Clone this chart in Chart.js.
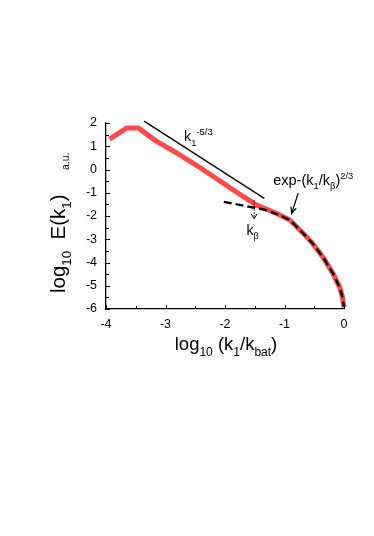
<!DOCTYPE html>
<html>
<head>
<meta charset="utf-8">
<script src="https://cdn.jsdelivr.net/npm/chart.js@4"></script>
<style>
  body { margin: 0; background: #fff; }
  #wrap { width: 374px; height: 536px; position: relative; }
</style>
</head>
<body>
<div id="wrap"><canvas id="chart"></canvas></div>
<script>
// measured spectrum (red)
const specX = [-3.94, -3.65, -3.46, -3.15, -2.81, -2.36, -1.86, -1.47, -1.13, -0.91, -0.8, -0.68, -0.52, -0.35, -0.18, -0.07, -0.03, 0.0];
const specY = [1.31, 1.79, 1.79, 1.21, 0.71, -0.02, -0.88, -1.53, -1.89, -2.17, -2.45, -2.76, -3.2, -3.78, -4.5, -5.08, -5.45, -5.93];

// exp-(k1/kb)^(2/3) fit (dashed)
const fitX = [-2.02, -1.58, -1.3, -1.08, -0.91, -0.8, -0.68, -0.52, -0.35, -0.18, -0.07, -0.03, 0.0];
const fitY = [-1.39, -1.61, -1.75, -1.97, -2.17, -2.45, -2.76, -3.2, -3.78, -4.5, -5.08, -5.45, -5.9];

// k^-5/3 reference line
const slopeX = [-3.36, -1.34];
const slopeY = [2.08, -1.24];

const xTicks = [-4, -3, -2, -1, 0];
const yTicks = [2, 1, 0, -1, -2, -3, -4, -5, -6];

const toPts = (xs, ys) => xs.map((x, i) => ({ x: x, y: ys[i] }));

const FONT = '"Liberation Sans", Arial, sans-serif';

// text with sub/superscript pieces: [text, mode] mode: 0 normal, -1 sub, 1 sup
function richText(ctx, parts, x, y, size, align) {
    let total = 0;
    parts.forEach(p => {
        ctx.font = (p[1] ? size * 0.65 : size) + 'px ' + FONT;
        total += ctx.measureText(p[0]).width;
    });
    let cx = align === 'center' ? x - total / 2 : x;
    ctx.textAlign = 'left';
    ctx.textBaseline = 'alphabetic';
    parts.forEach(p => {
        const s = p[1] ? size * 0.65 : size;
        ctx.font = s + 'px ' + FONT;
        const dy = p[1] === -1 ? size * 0.3 : (p[1] === 1 ? -size * 0.45 : 0);
        ctx.fillText(p[0], cx, y + dy);
        cx += ctx.measureText(p[0]).width;
    });
}

const decor = {
    id: 'decor',
    afterDraw(chart) {
        const ctx = chart.ctx;
        const xs = chart.scales.x, ys = chart.scales.y;
        const area = chart.chartArea;
        ctx.save();
        ctx.strokeStyle = '#000';
        ctx.fillStyle = '#000';
        ctx.lineWidth = 1;

        // inward ticks
        for (let v = -4; v <= 0.001; v += 0.5) {
            const px = Math.round(xs.getPixelForValue(v)) + 0.5;
            const len = Number.isInteger(v) ? 4 : 3;
            ctx.beginPath();
            ctx.moveTo(px, area.bottom);
            ctx.lineTo(px, area.bottom - len);
            ctx.stroke();
        }
        for (let v = -6; v <= 2.001; v += 0.5) {
            const py = Math.round(ys.getPixelForValue(v)) + 0.5;
            const len = Number.isInteger(v) ? 4 : 3;
            ctx.beginPath();
            ctx.moveTo(area.left, py);
            ctx.lineTo(area.left + len, py);
            ctx.stroke();
        }

        // k_beta dotted arrow
        const ax = xs.getPixelForValue(-1.51);
        const ay0 = ys.getPixelForValue(-1.32);
        const ay1 = ys.getPixelForValue(-2.12);
        ctx.setLineDash([1.5, 1.5]);
        ctx.beginPath();
        ctx.moveTo(ax, ay0);
        ctx.lineTo(ax, ay1);
        ctx.stroke();
        ctx.setLineDash([]);
        ctx.beginPath();
        ctx.moveTo(ax - 3, ay1 - 5);
        ctx.lineTo(ax, ay1);
        ctx.lineTo(ax + 3, ay1 - 5);
        ctx.stroke();
        richText(ctx, [['k', 0], ['β', -1]], xs.getPixelForValue(-1.64), ys.getPixelForValue(-2.8), 14, 'left');

        // arrow for fit label
        const bx0 = xs.getPixelForValue(-0.77), by0 = ys.getPixelForValue(-1.01);
        const bx1 = xs.getPixelForValue(-0.88), by1 = ys.getPixelForValue(-1.89);
        ctx.lineWidth = 1.2;
        ctx.beginPath();
        ctx.moveTo(bx0, by0);
        ctx.lineTo(bx1, by1);
        ctx.stroke();
        const ang = Math.atan2(by1 - by0, bx1 - bx0);
        ctx.beginPath();
        ctx.moveTo(bx1 - 7 * Math.cos(ang - 0.4), by1 - 7 * Math.sin(ang - 0.4));
        ctx.lineTo(bx1, by1);
        ctx.lineTo(bx1 - 7 * Math.cos(ang + 0.4), by1 - 7 * Math.sin(ang + 0.4));
        ctx.stroke();

        richText(ctx, [['exp-(k', 0], ['1', -1], ['/k', 0], ['β', -1], [')', 0], ['2/3', 1]],
            xs.getPixelForValue(-1.19), ys.getPixelForValue(-0.67), 14.5, 'left');
        richText(ctx, [['k', 0], ['1', -1], ['-5/3', 1]],
            xs.getPixelForValue(-2.69), ys.getPixelForValue(1.21), 14.5, 'left');

        // axis titles
        richText(ctx, [['log', 0], ['10', -1], [' (k', 0], ['1', -1], ['/k', 0], ['bat', -1], [')', 0]],
            (area.left + area.right) / 2 + 1, 350, 18.5, 'center');

        ctx.translate(65, 293);
        ctx.rotate(-Math.PI / 2);
        richText(ctx, [['log', 0], ['10', -1], ['  E(k', 0], ['1', -1], [')', 0]], 0, 0, 20.5, 'left');
        ctx.font = '10.5px ' + FONT;
        ctx.fillText('a.u.', 123, 4);
        ctx.restore();
    }
};

new Chart(document.getElementById('chart'), {
    type: 'scatter',
    data: {
        datasets: [
            {
                data: toPts(slopeX, slopeY),
                showLine: true,
                borderColor: '#000',
                borderWidth: 1.3,
                pointRadius: 0,
                clip: false
            },
            {
                data: toPts(fitX, fitY),
                showLine: true,
                borderColor: '#000',
                borderWidth: 2.4,
                borderDash: [8, 4],
                pointRadius: 0,
                clip: false
            },
            {
                data: toPts(specX, specY),
                showLine: true,
                borderColor: 'rgb(255, 72, 72)',
                borderWidth: 5,
                pointRadius: 0,
                borderJoinStyle: 'round',
                clip: false
            }
        ]
    },
    options: {
        responsive: true,
        maintainAspectRatio: false,
        animation: false,
        events: [],
        layout: { padding: { top: 123, right: 30, left: 0, bottom: 0 } },
        plugins: { legend: { display: false }, tooltip: { enabled: false } },
        scales: {
            x: {
                type: 'linear',
                min: -4,
                max: 0,
                afterFit: s => { s.height = 227; },
                afterBuildTicks: s => { s.ticks = xTicks.map(v => ({ value: v })); },
                grid: { display: false, drawTicks: false },
                border: { display: true, color: '#000', width: 1.3 },
                ticks: { color: '#000', padding: 8, font: { family: FONT, size: 12.5 } }
            },
            y: {
                type: 'linear',
                min: -6,
                max: 2,
                afterFit: s => { s.width = 106; },
                afterBuildTicks: s => { s.ticks = yTicks.map(v => ({ value: v })); },
                grid: { display: false, drawTicks: false },
                border: { display: true, color: '#000', width: 1.3 },
                ticks: { color: '#000', padding: 9, font: { family: FONT, size: 12.5 } }
            }
        }
    },
    plugins: [decor]
});
</script>
</body>
</html>
